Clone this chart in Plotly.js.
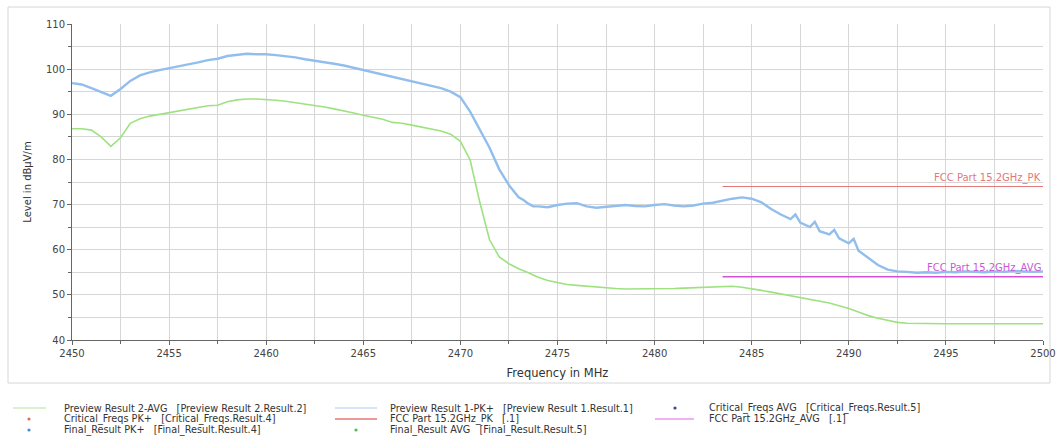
<!DOCTYPE html>
<html>
<head>
<meta charset="utf-8">
<script src="https://cdn.plot.ly/plotly-3.0.1.min.js"></script>
<style>html,body{margin:0;padding:0;background:#fff;}#chart{width:1056px;height:448px;}</style>
</head>
<body>
<div id="chart"></div>
<script>
// ---- data ----
const freqPK = [2450,2450.5,2451,2451.5,2452,2452.5,2453,2453.5,2454,2454.5,2455,2455.5,2456,2456.5,2457,2457.5,2458,2458.5,2459,2459.5,2460,2460.5,2461,2461.5,2462,2462.5,2463,2463.5,2464,2464.5,2465,2465.5,2466,2466.5,2467,2467.5,2468,2468.5,2469,2469.5,2470,2470.5,2471,2471.5,2472,2472.5,2473,2473.25,2473.5,2473.75,2474,2474.5,2475,2475.5,2476,2476.5,2477,2477.5,2478,2478.5,2479,2479.5,2480,2480.5,2481,2481.5,2482,2482.5,2483,2483.5,2484,2484.5,2485,2485.5,2486,2486.5,2487,2487.25,2487.5,2488,2488.25,2488.5,2489,2489.25,2489.5,2490,2490.25,2490.5,2491,2491.5,2492,2492.5,2493,2493.5,2494,2494.5,2495,2495.5,2496,2496.5,2497,2497.5,2498,2498.5,2499,2499.5,2500];
const levelPK = [96.9,96.6,95.8,94.9,94.1,95.6,97.4,98.6,99.3,99.8,100.2,100.6,101.1,101.5,102.0,102.3,102.9,103.2,103.4,103.3,103.3,103.1,102.9,102.6,102.2,101.9,101.6,101.2,100.8,100.3,99.8,99.3,98.9,98.3,97.8,97.3,96.8,96.3,95.8,95.0,93.8,90.6,86.5,82.6,77.8,74.3,71.6,71.0,70.2,69.6,69.6,69.4,69.9,70.2,70.3,69.6,69.3,69.5,69.8,69.9,69.7,69.6,69.9,70.1,69.8,69.6,69.8,70.2,70.4,70.9,71.3,71.6,71.3,70.5,69.0,67.8,66.8,67.8,66.0,65.0,66.2,64.1,63.4,64.4,62.5,61.4,62.4,59.8,58.2,56.6,55.6,55.2,55.1,54.9,55.0,54.9,55.1,55.0,55.2,55.1,55.0,55.2,55.1,55.3,55.2,55.1,55.2];

const freqAV = [2450,2450.5,2451,2451.5,2452,2452.5,2453,2453.5,2454,2454.5,2455,2455.5,2456,2456.5,2457,2457.5,2458,2458.5,2459,2459.5,2460,2460.5,2461,2461.5,2462,2462.5,2463,2463.5,2464,2464.5,2465,2465.5,2466,2466.5,2467,2467.5,2468,2468.5,2469,2469.5,2470,2470.5,2471,2471.5,2472,2472.5,2473,2473.5,2474,2474.5,2475,2475.5,2476,2476.5,2477,2477.5,2478,2478.5,2479,2479.5,2480,2480.5,2481,2481.5,2482,2482.5,2483,2483.5,2484,2484.5,2485,2485.5,2486,2486.5,2487,2487.5,2488,2488.5,2489,2489.5,2490,2490.5,2491,2491.5,2492,2492.5,2493,2494,2495,2496,2497,2498,2499,2500];
const levelAV = [86.8,86.8,86.5,85.0,82.9,84.8,88.0,89.0,89.6,90.0,90.3,90.8,91.2,91.6,91.9,92.0,92.8,93.2,93.4,93.4,93.3,93.1,92.9,92.6,92.3,92.0,91.6,91.2,90.8,90.3,89.8,89.3,88.9,88.2,88.0,87.6,87.2,86.8,86.3,85.6,84.0,79.9,70.5,62.2,58.4,56.9,55.8,54.9,53.9,53.2,52.7,52.3,52.1,51.9,51.7,51.5,51.4,51.3,51.3,51.3,51.3,51.4,51.4,51.5,51.6,51.7,51.8,51.9,51.9,51.7,51.4,51.0,50.6,50.2,49.8,49.5,49.0,48.6,48.2,47.6,47.0,46.2,45.4,44.8,44.3,43.9,43.7,43.6,43.6,43.6,43.6,43.6,43.6,43.6];

const limitFreq = [2483.5, 2500];
const limitPK = [74, 74];
const limitAVG = [54, 54];

const xTitle = "Frequency in MHz";
const yTitle = "Level in dBμV/m";
const limitPKName = "FCC Part 15.2GHz_PK";
const limitAVGName = "FCC Part 15.2GHz_AVG";

const legendRows = [
  ["Preview Result 2-AVG\u00a0\u00a0\u00a0[Preview Result 2.Result.2]", "Preview Result 1-PK+\u00a0\u00a0\u00a0[Preview Result 1.Result.1]", "Critical_Freqs AVG\u00a0\u00a0\u00a0[Critical_Freqs.Result.5]"],
  ["Critical_Freqs PK+\u00a0\u00a0\u00a0[Critical_Freqs.Result.4]", "FCC Part 15.2GHz_PK\u00a0\u00a0\u00a0[.1]", "FCC Part 15.2GHz_AVG\u00a0\u00a0\u00a0[.1]"],
  ["Final_Result PK+\u00a0\u00a0\u00a0[Final_Result.Result.4]", "Final_Result AVG\u00a0\u00a0\u00a0[Final_Result.Result.5]", ""]
];

// ---- colours / styles ----
const cBlue = "rgb(146,190,237)";
const cGreen = "rgb(158,226,128)";
const cRed = "rgb(228,120,120)";
const cMag = "rgb(214,80,214)";
const FONT = "DejaVu Sans, Liberation Sans, Arial, sans-serif";

// plot area in pixels
const L = 72, R = 1043, T = 24, B = 340;
const px2x = p => (p - L) / (R - L);
const px2y = p => (B - p) / (B - T);

const traces = [
  {x: freqAV, y: levelAV, type: "scatter", mode: "lines", name: "Preview Result 2-AVG",
   line: {color: cGreen, width: 1.6}, hoverinfo: "skip"},
  {x: freqPK, y: levelPK, type: "scatter", mode: "lines", name: "Preview Result 1-PK+",
   line: {color: cBlue, width: 2.4}, hoverinfo: "skip"},
  {x: limitFreq, y: limitPK, type: "scatter", mode: "lines", name: limitPKName,
   line: {color: cRed, width: 1.2}, hoverinfo: "skip"},
  {x: limitFreq, y: limitAVG, type: "scatter", mode: "lines", name: limitAVGName,
   line: {color: cMag, width: 1.4}, hoverinfo: "skip"}
];

const shapes = [
  {type: "rect", xref: "paper", yref: "paper", x0: px2x(8), x1: px2x(1050), y0: px2y(383), y1: px2y(7),
   line: {color: "#d6d6d6", width: 1}, layer: "below"},
  // legend symbols
  {type: "line", xref: "paper", yref: "paper", x0: px2x(13), x1: px2x(46), y0: px2y(408), y1: px2y(408), line: {color: "rgb(205,236,190)", width: 1.5}},
  {type: "line", xref: "paper", yref: "paper", x0: px2x(335), x1: px2x(377), y0: px2y(408), y1: px2y(408), line: {color: "rgb(200,222,246)", width: 1.5}},
  {type: "line", xref: "paper", yref: "paper", x0: px2x(335), x1: px2x(377), y0: px2y(419), y1: px2y(419), line: {color: cRed, width: 1.5}},
  {type: "line", xref: "paper", yref: "paper", x0: px2x(655), x1: px2x(694), y0: px2y(419), y1: px2y(419), line: {color: "rgb(236,150,236)", width: 1.5}}
];
function dot(cx, cy, color) {
  shapes.push({type: "circle", xref: "paper", yref: "paper", x0: px2x(cx - 1.6), x1: px2x(cx + 1.6),
    y0: px2y(cy + 1.6), y1: px2y(cy - 1.6), fillcolor: color, line: {width: 0}});
}
dot(29, 419, "rgb(222,110,100)");
dot(29, 430, "rgb(70,140,210)");
dot(356, 430, "rgb(80,190,80)");
dot(675, 408, "rgb(60,70,150)");

const annotations = [
  {x: 2500, y: limitPK[1], xref: "x", yref: "y", xanchor: "right", yanchor: "bottom", yshift: 1,
   text: limitPKName, showarrow: false, font: {family: FONT, size: 10, color: cRed}},
  {x: 2500, y: limitAVG[1], xref: "x", yref: "y", xanchor: "right", yanchor: "bottom", yshift: 1,
   text: limitAVGName, showarrow: false, font: {family: FONT, size: 10, color: "rgb(200,90,215)"}}
];
const colX = [62, 388, 707];
const rowY = [408, 419, 430];
legendRows.forEach((row, r) => row.forEach((txt, c) => {
  if (!txt) return;
  annotations.push({x: px2x(colX[c]), y: px2y(rowY[r]), xref: "paper", yref: "paper",
    xanchor: "left", yanchor: "middle", text: txt, showarrow: false,
    font: {family: FONT, size: 9.7, color: "#333"}});
}));

const axisCommon = {
  showline: true, linecolor: "#666", linewidth: 1, mirror: false,
  ticks: "outside", ticklen: 4, tickcolor: "#666", tickwidth: 1,
  showgrid: true, gridcolor: "#d6d6d6", gridwidth: 1, zeroline: false,
  tickfont: {family: FONT, size: 10, color: "#444"}
};

const layout = {
  width: 1056, height: 448,
  margin: {l: L, r: 1056 - R, t: T, b: 448 - B, pad: 0},
  paper_bgcolor: "#fff", plot_bgcolor: "#fff",
  showlegend: false,
  font: {family: FONT, color: "#333"},
  xaxis: Object.assign({}, axisCommon, {
    range: [2450, 2500], tick0: 2450, dtick: 5,
    minor: {dtick: 2.5, showgrid: true, gridcolor: "#d6d6d6", ticks: "outside", ticklen: 3, tickcolor: "#666"},
    title: {text: xTitle, font: {family: FONT, size: 11.5, color: "#333"}, standoff: 10}
  }),
  yaxis: Object.assign({}, axisCommon, {
    range: [40, 110], tick0: 40, dtick: 10,
    minor: {dtick: 5, showgrid: true, gridcolor: "#d6d6d6", ticks: "outside", ticklen: 3, tickcolor: "#666"},
    title: {text: yTitle, font: {family: FONT, size: 10, color: "#333"}, standoff: 12}
  }),
  shapes: shapes,
  annotations: annotations
};

Plotly.newPlot("chart", traces, layout, {staticPlot: true, displayModeBar: false});
</script>
</body>
</html>
